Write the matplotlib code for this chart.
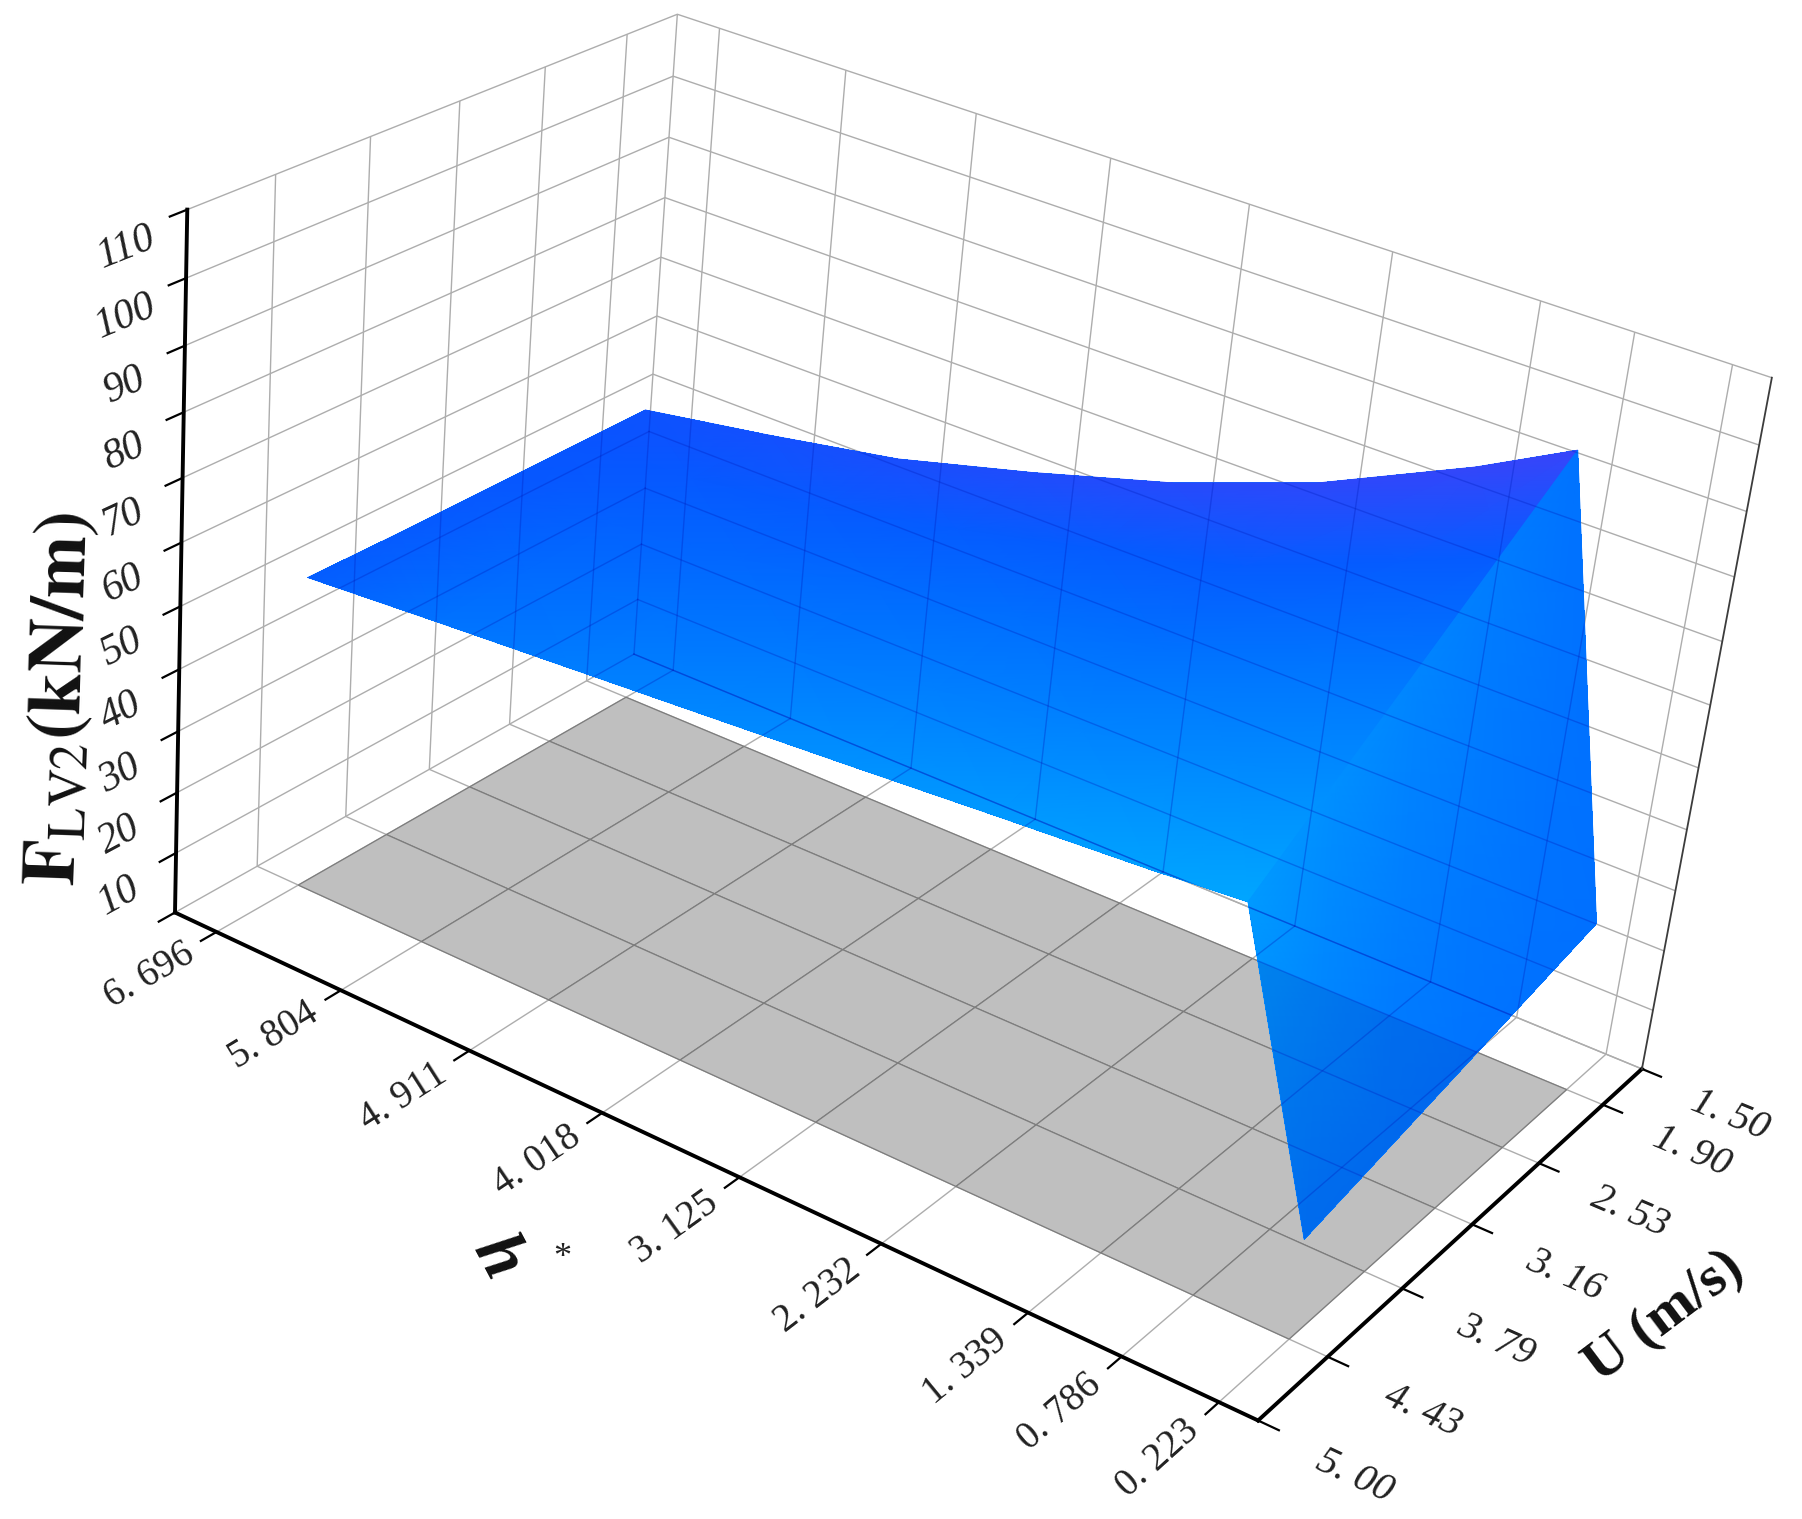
import numpy as np
import matplotlib
matplotlib.use('Agg')
import matplotlib.pyplot as plt
from matplotlib.colors import LinearSegmentedColormap
from matplotlib.patches import Polygon

# axis values
h_ticks = [6.696, 5.804, 4.911, 4.018, 3.125, 2.232, 1.339, 0.786, 0.223]
h_labels = ['6. 696', '5. 804', '4. 911', '4. 018', '3. 125', '2. 232', '1. 339', '0. 786', '0. 223']
u_ticks = [1.50, 1.90, 2.53, 3.16, 3.79, 4.43, 5.00]
u_labels = ['1. 50', '1. 90', '2. 53', '3. 16', '3. 79', '4. 43', '5. 00']
z_ticks = [0, 10, 20, 30, 40, 50, 60, 70, 80, 90, 100, 110]
z_labels = ['', '10', '20', '30', '40', '50', '60', '70', '80', '90', '100', '110']

# surface, one row per U, one column per h*
u_grid = [1.90, 2.53, 3.16, 3.79, 4.43]
f_u190 = [50.6, 54.2, 58.2, 64.0, 70.4, 78.5, 89.0, 96.5, 27.8]
f_u253 = [50.6, 53.7, 57.0, 61.8, 66.9, 72.5, 81.5, 87.5, 24.8]
f_u316 = [50.6, 53.2, 55.9, 59.6, 63.4, 67.0, 74.0, 78.5, 21.8]
f_u379 = [50.6, 52.8, 54.8, 57.3, 60.0, 62.5, 66.7, 69.6, 18.8]
f_u443 = [50.8, 52.3, 53.7, 55.1, 56.5, 58.0, 59.4, 60.5, 15.8]

W, H = 1802, 1519
xlo, xhi = 0.0, 7.0
ylo, yhi = 1.5, 5.0
zlo, zhi = 0, 110

# where the box corners sit in the picture, used to fit the camera
box_3d = [(xhi, yhi, zlo), (xlo, yhi, zlo), (xlo, ylo, zlo), (xhi, ylo, zlo),
          (xhi, yhi, zhi), (xhi, ylo, zhi), (xlo, ylo, zhi)]
box_px = [(174, 912), (1259, 1420), (1641, 1070), (635, 654),
          (187.5, 210.6), (677, 14), (1772, 377)]


def fit_camera():
    rows, rhs = [], []
    for (x, y, z), (u, v) in zip(box_3d, box_px):
        rows.append([x, y, z, 1, 0, 0, 0, 0, -u * x, -u * y, -u * z])
        rhs.append(u)
        rows.append([0, 0, 0, 0, x, y, z, 1, -v * x, -v * y, -v * z])
        rhs.append(v)
    p = np.linalg.lstsq(np.array(rows), np.array(rhs), rcond=None)[0]
    return np.append(p, 1.0).reshape(3, 4)


P = fit_camera()


def to_px(x, y, z):
    q = P[:, 0] * np.asarray(x)[..., None] + P[:, 1] * np.asarray(y)[..., None] \
        + P[:, 2] * np.asarray(z)[..., None] + P[:, 3]
    return q[..., 0] / q[..., 2], q[..., 1] / q[..., 2]


def screen_angle(a, b):
    (u0, v0), (u1, v1) = to_px(*a), to_px(*b)
    return np.degrees(np.arctan2(v0 - v1, u1 - u0))


plt.rcParams['font.family'] = ['Liberation Serif', 'DejaVu Sans']
plt.rcParams['mathtext.fontset'] = 'stix'
plt.rcParams['grid.color'] = '#adadad'
plt.rcParams['grid.linewidth'] = 1.0

fig = plt.figure(figsize=(W / 100, H / 100), dpi=100)
# square axes as wide as the figure, so pixels map simply to the 2D view
ax = fig.add_axes([0, -(W - H) / 2 / H, 1, W / H], projection='3d', computed_zorder=False)
ax.patch.set_alpha(0)

vx0, vx1 = ax.viewLim.intervalx
vy0, vy1 = ax.viewLim.intervaly
sx = (vx1 - vx0) / W
sy = -(vy1 - vy0) / W
tx = vx0
ty = vy0 + (vy1 - vy0) * (H + (W - H) / 2) / W
row_x = sx * P[0] + tx * P[2]
row_y = sy * P[1] + ty * P[2]
depth = np.array([1 / (xhi - xlo), -1 / (yhi - ylo), -1 / (zhi - zlo), 0.0])
M = np.array([row_x, row_y, depth, P[2]])
ax.get_proj = lambda: M

X, Y = np.meshgrid(h_ticks, u_grid)
Z = np.array([f_u190, f_u253, f_u316, f_u379, f_u443])

# gray plane on the floor
ax.plot_surface(X, Y, np.zeros_like(X), color='#bfbfbf', edgecolor='#7d7d7d', linewidth=0.9,
                shade=False, rstride=1, cstride=1, zorder=1)
ax.plot_surface(X, Y, Z, color='#0a78ff', linewidth=0, antialiased=False,
                shade=False, rstride=1, cstride=1, zorder=2)

# outer edge of the box and the z axis on the left
ax.plot([xlo, xlo], [ylo, ylo], [zlo, zhi], color='#3c3c3c', lw=1.3, zorder=3)
ax.plot([xhi, xhi], [yhi, yhi], [zlo, zhi], color='black', lw=2.8, zorder=3)
for z in z_ticks:
    ax.plot([xhi, xhi], [yhi, yhi + 0.11], [z, z], color='black', lw=1.6, zorder=3)

ax.set_xlim(xlo, xhi)
ax.set_ylim(ylo, yhi)
ax.set_zlim(zlo, zhi)
ax.set_xticks(h_ticks)
ax.set_yticks(u_ticks)
ax.set_zticks(z_ticks)
ax.set_xticklabels([])
ax.set_yticklabels([])
ax.set_zticklabels([])

for axis, tick_len in [(ax.xaxis, 0.38), (ax.yaxis, 0.21), (ax.zaxis, 0.0)]:
    axis.set_pane_color((1, 1, 1, 0))
    axis.pane.set_edgecolor('#6e6e6e')
    axis.pane.set_linewidth(1.1)
    axis.line.set_color('black')
    axis.line.set_linewidth(2.8)
    axis._axinfo['tick']['outward_factor'] = 0.0
    axis._axinfo['tick']['inward_factor'] = tick_len
    axis._axinfo['tick']['linewidth'][True] = 1.6
    axis._axinfo['tick']['color'] = 'black'
ax.zaxis.line.set_visible(False)
ax.zaxis._axinfo['tick']['linewidth'][True] = 0

# smooth colouring of the surface, on a plain axes in picture pixels
top = fig.add_axes([0, 0, 1, 1])
top.set_xlim(0, W)
top.set_ylim(H, 0)
top.axis('off')

blues = LinearSegmentedColormap.from_list('surface', [(0.22, 0.27, 0.98), (0.03, 0.33, 1.0), (0.0, 0.43, 1.0),
                                                      (0.0, 0.53, 1.0), (0.0, 0.65, 1.0)])
xf = np.array([(h_ticks[0] - x) / (h_ticks[0] - h_ticks[7]) for x in h_ticks[:8]])
yf = np.array([(u - u_grid[0]) / (u_grid[-1] - u_grid[0]) for u in u_grid])
shade_top = np.array([[(0.22 - 0.22 * a) + b ** 0.8 * (0.12 + 0.88 * a ** 0.7) for a in xf] for b in yf])
shade_drop = np.array([[0.55 + 0.35 * b, 0.52 + 0.08 * b] for b in yf])

U, V = to_px(X, Y, Z)
top.pcolormesh(U[:, :8], V[:, :8], shade_top, shading='gouraud', cmap=blues, vmin=0, vmax=1, zorder=1)
top.pcolormesh(U[:, 7:], V[:, 7:], shade_drop, shading='gouraud', cmap=blues, vmin=0, vmax=1, zorder=1)

# what shows through the surface is clipped to its outline
edge_u = np.concatenate([U[0, :], U[:, -1], U[-1, ::-1], U[::-1, 0]])
edge_v = np.concatenate([V[0, :], V[:, -1], V[-1, ::-1], V[::-1, 0]])
clip = Polygon(np.column_stack([edge_u, edge_v]), closed=True, transform=top.transData)

pu, pv = to_px(np.array([h_ticks[0], h_ticks[-1], h_ticks[-1], h_ticks[0]]),
               np.array([u_grid[0], u_grid[0], u_grid[-1], u_grid[-1]]), np.zeros(4))
tint = top.add_patch(Polygon(np.column_stack([pu, pv]), closed=True, facecolor=(0, 0.08, 0.47, 0.13),
                             edgecolor='none', zorder=2))
tint.set_clip_path(clip)

through = []
for x in h_ticks:
    through.append(([x, x], [ylo, yhi], [zlo, zlo]))
    through.append(([x, x], [ylo, ylo], [zlo, zhi]))
for u in u_ticks:
    through.append(([xlo, xhi], [u, u], [zlo, zlo]))
    through.append(([xhi, xhi], [u, u], [zlo, zhi]))
for z in z_ticks:
    through.append(([xlo, xhi], [ylo, ylo], [z, z]))
    through.append(([xhi, xhi], [ylo, yhi], [z, z]))
for xs, ys, zs in through:
    lu, lv = to_px(np.array(xs, float), np.array(ys, float), np.array(zs, float))
    line, = top.plot(lu, lv, color=(0, 0.12, 0.75, 0.33), lw=1.0, zorder=3)
    line.set_clip_path(clip)


def put_text(px, py, s, **kw):
    fig.text(px / W, 1 - py / H, s, ha='center', va='center', **kw)


# tick labels lie in the floor and wall planes, so turn them with the box edges
for x, s in zip(h_ticks, h_labels):
    lx, ly = to_px(x + 0.094, yhi + 0.5, zlo)
    put_text(lx + 20, ly + 7, s, fontsize=28, color='#222222',
             rotation=screen_angle((x, yhi, zlo), (x, ylo, zlo)))
for u, s in zip(u_ticks, u_labels):
    lx, ly = to_px(xlo - 0.56, u, zlo)
    put_text(lx - 3, ly + 9, s, fontsize=29, color='#222222', style='italic',
             rotation=screen_angle((xhi, u, zlo), (xlo, u, zlo)))
for z, s in zip(z_ticks, z_labels):
    if s:
        put_text(*to_px(xhi, yhi + 0.38, z - 2), s, fontsize=30, color='#222222', style='italic',
                 rotation=screen_angle((xhi, yhi, z), (xhi, ylo, z)))

put_text(62, 699, r'$\mathbf{F}_{\mathrm{LV2}}\mathbf{(kN/m)}$', fontsize=54, rotation=88, color='#111111')
put_text(497, 1258, 'h', fontsize=50, fontweight='bold', style='italic', rotation=-62, color='#111111')
put_text(562, 1258, '*', fontsize=26, color='#222222')
put_text(1665, 1317, 'U (m/s)', fontsize=42, fontweight='bold', rotation=37, color='#111111')

fig.savefig('out.png', dpi=100)
